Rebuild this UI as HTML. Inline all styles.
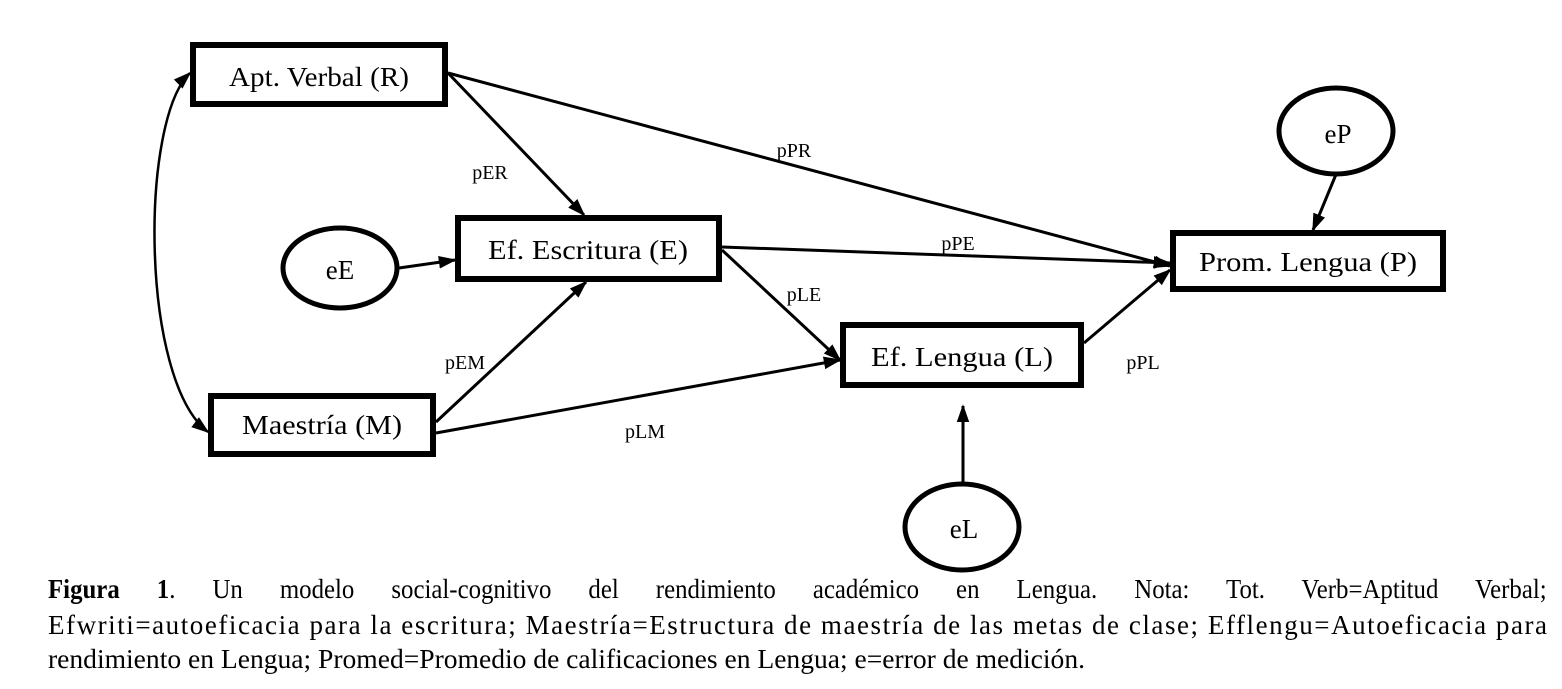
<!DOCTYPE html>
<html><head><meta charset="utf-8"><style>
html,body{margin:0;padding:0;background:#fff;}
body{position:relative;width:1562px;height:689px;overflow:hidden;}
svg{display:block;position:absolute;left:0;top:0;}
text{font-family:"Liberation Serif",serif;fill:#000;}
.cap{position:absolute;left:48px;width:1629px;font-family:"Liberation Serif",serif;font-size:27px;line-height:34px;color:#000;text-align:justify;text-align-last:justify;transform:scaleX(0.92);transform-origin:0 0;}
</style></head><body>
<svg width="1562" height="689" viewBox="0 0 1562 689" xmlns="http://www.w3.org/2000/svg">
<defs>
<marker id="b" viewBox="0 0 10 10" refX="9" refY="5" markerWidth="18" markerHeight="18" orient="auto-start-reverse" markerUnits="userSpaceOnUse">
<path d="M0,1.5 L10,5 L0,8.5 z" fill="#000"/>
</marker>
</defs>
<g fill="none" stroke="#000" stroke-width="3">
<path d="M190,73 C140,120 140,380 208,432" stroke-width="2.5" marker-start="url(#b)" marker-end="url(#b)"/>
<line x1="448" y1="73" x2="584" y2="215" marker-end="url(#b)"/>
<line x1="448" y1="73" x2="1170" y2="266" marker-end="url(#b)"/>
<line x1="399" y1="268" x2="455" y2="260" marker-end="url(#b)"/>
<line x1="436" y1="422" x2="586" y2="282" marker-end="url(#b)"/>
<line x1="436" y1="433" x2="840" y2="360" marker-end="url(#b)"/>
<line x1="722" y1="247" x2="1170" y2="263" marker-end="url(#b)"/>
<line x1="722" y1="250" x2="840" y2="360" marker-end="url(#b)"/>
<line x1="1084" y1="343" x2="1170" y2="270" marker-end="url(#b)"/>
<line x1="1337" y1="172" x2="1313" y2="230" marker-end="url(#b)"/>
<line x1="963" y1="483" x2="963" y2="406" marker-end="url(#b)"/>
</g>
<g fill="#fff" stroke="#000" stroke-width="6">
<rect x="193" y="45" width="252" height="59"/>
<rect x="458" y="218" width="261" height="61"/>
<rect x="211" y="396" width="222" height="58"/>
<rect x="843" y="325" width="238" height="60"/>
<rect x="1173" y="233" width="270" height="56"/>
<ellipse cx="340" cy="268" rx="57" ry="40" stroke-width="5"/>
<ellipse cx="1336" cy="131" rx="57" ry="43" stroke-width="5"/>
<ellipse cx="962" cy="527" rx="57" ry="43" stroke-width="5"/>
</g>
<g font-size="27" text-anchor="middle">
<text x="319" y="86" textLength="180" lengthAdjust="spacingAndGlyphs">Apt. Verbal (R)</text>
<text x="588" y="259" textLength="200" lengthAdjust="spacingAndGlyphs">Ef. Escritura (E)</text>
<text x="322" y="434" textLength="160" lengthAdjust="spacingAndGlyphs">Maestría (M)</text>
<text x="962" y="366" textLength="182" lengthAdjust="spacingAndGlyphs">Ef. Lengua (L)</text>
<text x="1308" y="271" textLength="218" lengthAdjust="spacingAndGlyphs">Prom. Lengua (P)</text>
<text x="340" y="279">eE</text>
<text x="1338" y="143">eP</text>
<text x="964" y="538">eL</text>
</g>
<g font-size="20" text-anchor="middle">
<text x="490" y="179">pER</text>
<text x="794" y="157">pPR</text>
<text x="958" y="250">pPE</text>
<text x="804" y="301">pLE</text>
<text x="465" y="369">pEM</text>
<text x="645" y="438">pLM</text>
<text x="1143" y="369">pPL</text>
</g>
<g font-size="27">
<text x="48" y="634" textLength="1499" lengthAdjust="spacing">Efwriti=autoeficacia para la escritura; Maestría=Estructura de maestría de las metas de clase; Efflengu=Autoeficacia para</text>
<text x="48" y="668" textLength="1037" lengthAdjust="spacingAndGlyphs">rendimiento en Lengua; Promed=Promedio de calificaciones en Lengua; e=error de medición.</text>
</g>
</svg>
<div class="cap" style="top:572px;"><b>Figura 1</b>. Un modelo social-cognitivo del rendimiento académico en Lengua. Nota: Tot. Verb=Aptitud Verbal;</div>
</body></html>
